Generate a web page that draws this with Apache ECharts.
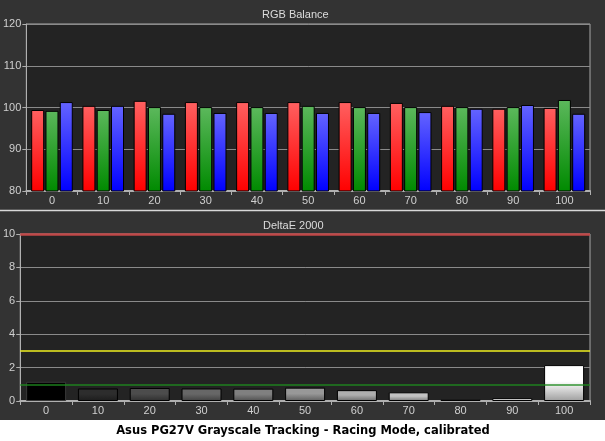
<!DOCTYPE html>
<html>
<head>
<meta charset="utf-8">
<script src="https://cdn.jsdelivr.net/npm/echarts@6/dist/echarts.min.js"></script>
<style>
html,body{margin:0;padding:0;background:#fff;}
#c{width:605px;height:441px;}
</style>
</head>
<body>
<div id="c"></div>
<script>
const categories = ['0','10','20','30','40','50','60','70','80','90','100'];
const redValues   = [99.4, 100.4, 101.6, 101.3, 101.3, 101.3, 101.3, 101.1, 100.4, 99.7, 99.9];
const greenValues = [99.2, 99.4, 100.1, 100.1, 100.1, 100.4, 100.1, 100.1, 100.1, 100.1, 101.8];
const blueValues  = [101.3, 100.4, 98.5, 98.7, 98.7, 98.7, 98.7, 98.9, 99.7, 100.6, 98.5];
const deltaE      = [1.15, 0.75, 0.78, 0.75, 0.74, 0.8, 0.65, 0.52, 0.1, 0.17, 2.15];
const rgbTicks = {min: 80, max: 120, interval: 10};
const deTicks = {min: 0, max: 10, interval: 2};
const deRefLines = {red: 10, yellow: 3, green: 1};

const chart = echarts.init(document.getElementById('c'), null, {renderer: 'canvas'});
const FONT = 'Liberation Sans';

function grad(top, bottom) {
  return new echarts.graphic.LinearGradient(0, 0, 0, 1, [
    {offset: 0, color: top}, {offset: 1, color: bottom}
  ]);
}
function grayHex(v) {
  v = Math.max(0, Math.min(255, Math.round(v)));
  const h = v.toString(16).padStart(2, '0');
  return '#' + h + h + h;
}
const deData = deltaE.map((v, i) => {
  const t = i / 10;
  const g = 255 * Math.pow(t, 0.75);
  return {
    value: v,
    itemStyle: {
      borderColor: i === 0 ? '#3a3a3a' : '#000',
      color: new echarts.graphic.LinearGradient(0, 0, 0, 1, [
        {offset: 0, color: grayHex(g)},
        {offset: 0.45, color: grayHex(g)},
        {offset: 1, color: grayHex(g * 0.62)}
      ])
    }
  };
});

const axisLabelStyle = {color: '#d0d0d0', fontSize: 11, fontFamily: FONT};

function xAxis(gridIndex) {
  return {
    type: 'category', gridIndex, data: categories,
    axisLine: {lineStyle: {color: '#b0b0b0', width: 2}},
    axisTick: {show: true, length: 4, lineStyle: {color: '#b0b0b0'}},
    axisLabel: Object.assign({margin: 4}, axisLabelStyle),
    splitLine: {show: false}
  };
}
function yAxis(gridIndex, t) {
  return {
    type: 'value', gridIndex, min: t.min, max: t.max, interval: t.interval,
    axisLine: {show: true, lineStyle: {color: '#b0b0b0', width: 1}},
    axisTick: {show: true, length: 4, lineStyle: {color: '#b0b0b0'}},
    axisLabel: Object.assign({margin: 5}, axisLabelStyle),
    splitLine: {show: true, lineStyle: {color: '#8a8a8a', width: 1}}
  };
}

const option = {
  backgroundColor: '#333333',
  animation: false,
  graphic: [
    {type: 'rect', shape: {x: 0, y: 420, width: 605, height: 21}, style: {fill: '#ffffff'}, z: -10},
    {type: 'line', shape: {x1: 0, y1: 210.5, x2: 605, y2: 210.5}, style: {stroke: '#d8d8d8', lineWidth: 1.5}},
    {type: 'text', left: 297 - 35, top: 9, style: {text: 'RGB Balance', fill: '#dcdcdc', font: '11px ' + FONT}},
    {type: 'text', left: 297 - 34, top: 220, style: {text: 'DeltaE 2000', fill: '#dcdcdc', font: '11px ' + FONT}},
    {type: 'text', x: 303, y: 431, style: {text: 'Asus PG27V Grayscale Tracking - Racing Mode, calibrated', fill: '#000', font: 'bold 11.5px "DejaVu Sans"', align: 'center', verticalAlign: 'middle'}}
  ],
  grid: [
    {left: 26, top: 24, right: 15, height: 167, show: true, backgroundColor: '#232323', borderColor: '#a8a8a8', borderWidth: 1},
    {left: 20, top: 234, right: 15, height: 167, show: true, backgroundColor: '#232323', borderColor: '#a8a8a8', borderWidth: 1}
  ],
  xAxis: [xAxis(0), xAxis(1)],
  yAxis: [yAxis(0, rgbTicks), yAxis(1, deTicks)],
  series: [
    {type: 'bar', name: 'R', xAxisIndex: 0, yAxisIndex: 0, data: redValues, barWidth: 13, barGap: '10%',
      itemStyle: {color: grad('#ff6060', '#ff0000'), borderColor: '#000', borderWidth: 1}},
    {type: 'bar', name: 'G', xAxisIndex: 0, yAxisIndex: 0, data: greenValues, barWidth: 13, barGap: '10%',
      itemStyle: {color: grad('#5cb85c', '#008a00'), borderColor: '#000', borderWidth: 1}},
    {type: 'bar', name: 'B', xAxisIndex: 0, yAxisIndex: 0, data: blueValues, barWidth: 13, barGap: '10%',
      itemStyle: {color: grad('#6464ff', '#0000ff'), borderColor: '#000', borderWidth: 1}},
    {type: 'bar', name: 'dE', xAxisIndex: 1, yAxisIndex: 1, data: deData, barWidth: 40,
      itemStyle: {borderColor: '#000', borderWidth: 1},
      markLine: {
        silent: true, symbol: 'none', label: {show: false}, z: 10,
        emphasis: {disabled: true},
        data: [
          {yAxis: deRefLines.red, lineStyle: {color: '#c04848', width: 2.5, type: 'solid'}},
          {yAxis: deRefLines.yellow, lineStyle: {color: '#f0f020', width: 1.6, type: 'solid', opacity: 1}},
          {yAxis: deRefLines.green, lineStyle: {color: '#1e8a1e', width: 1.5, type: 'solid', opacity: 0.9}}
        ]
      }}
  ]
};
chart.setOption(option);
</script>
</body>
</html>
